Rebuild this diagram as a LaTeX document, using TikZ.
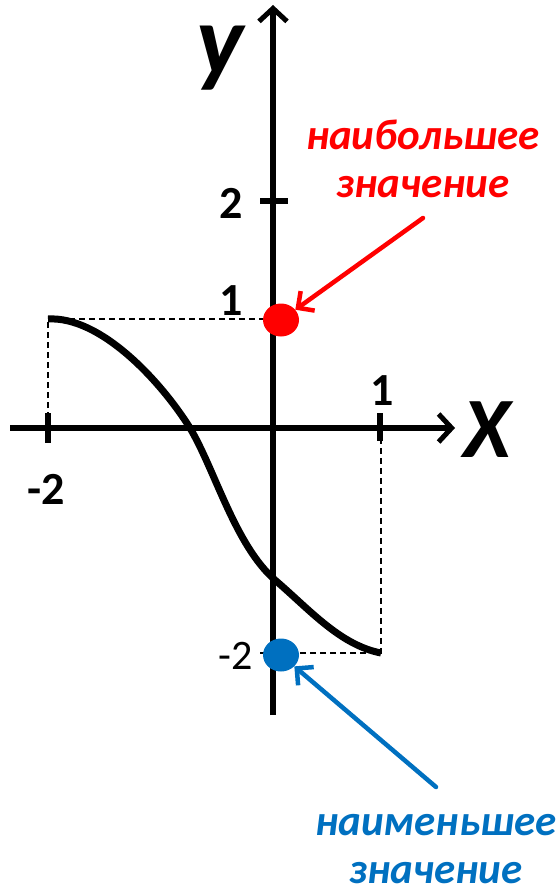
\documentclass[tikz,border=0pt]{standalone}
\usepackage{fontspec}
\setmainfont{Carlito}
\usetikzlibrary{arrows.meta,shapes.geometric}
\definecolor{maxred}{RGB}{255,0,0}
\definecolor{minblue}{RGB}{0,112,192}

\begin{document}
\begin{tikzpicture}[x=1pt,y=-1pt,
  axis/.style={line width=6pt,-{Straight Barb[length=13pt,width=28pt,line width=5pt]}},
  tick/.style={line width=6pt},
  guide/.style={line width=2pt,dash pattern=on 6pt off 4pt},
  numlab/.style={font=\fontsize{46}{50}\selectfont\bfseries},
  dot/.style={ellipse,minimum width=36pt,minimum height=33pt,inner sep=0pt},
  note/.style={align=center,inner sep=1pt,font=\fontsize{43}{48}\selectfont\bfseries\itshape},
  pointer/.style={line width=4.5pt,line cap=round,-{Straight Barb[length=12pt,width=24pt,line width=4.5pt]}}]
\useasboundingbox (0,0) rectangle (558,893);
\coordinate (O) at (273,428);
\coordinate (xl) at (10,428); \coordinate (xr) at (455,428);
\coordinate (yb) at (273,715); \coordinate (yt) at (273,5);
\coordinate (P) at (48,319); \coordinate (Q) at (381,653);
\coordinate (maxtail) at (423,218); \coordinate (mintail) at (436,787);
% guides
\draw[guide] (48,428) -- (P) -- (273,319);
\draw[guide] (381,428) -- (Q) -- (258,653);
% axes
\draw[axis] (xl) -- (xr);
\draw[axis] (yb) -- (yt);
\draw[tick] (260,201) -- (288,201);
\draw[tick] (48,413) -- (48,443);
\draw[tick] (380,413) -- (380,441);
\node[font=\fontsize{100}{100}\selectfont\bfseries\itshape] (ylab) at (220,58) {y};
\node[font=\fontsize{86}{86}\selectfont\bfseries\itshape] (xlab) at (487,430) {X};
\node[numlab] (ytwo) at (231,203) {2};
\node[numlab] (yone) at (231,301) {1};
\node[numlab] (xmtwo) at (46,489) {-2};
\node[numlab] (xone) at (382,391) {1};
\node[font=\fontsize{42}{44}\selectfont] (ymtwo) at (236,656) {-2};
% graph
\draw[line width=7pt] (P) .. controls (100,316) and (160,380) .. (190,428)
  .. controls (215,470) and (235,545) .. (275,580)
  .. controls (310,610) and (340,645) .. (Q);
% extreme values
\node[dot,fill=maxred] (maxdot) at (281,320) {};
\node[dot,fill=minblue] (mindot) at (281,655) {};
\node[note,text=maxred] (maxtext) at (423,159) {наибольшее\\значение};
\node[note,text=minblue] (mintext) at (436,849) {наименьшее\\значение};
\draw[pointer,draw=maxred] (maxtail) -- (maxdot);
\draw[pointer,draw=minblue] (mintail) -- (mindot);
\end{tikzpicture}
\end{document}
